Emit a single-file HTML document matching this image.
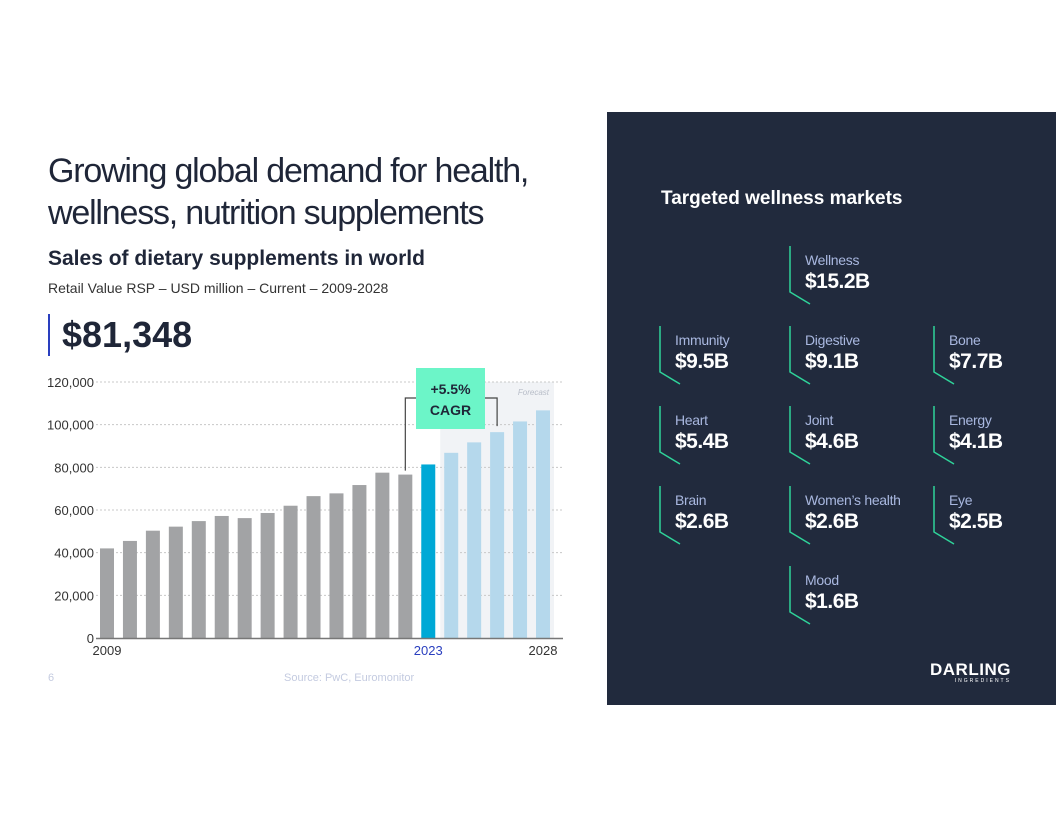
<!DOCTYPE html>
<html><head><meta charset="utf-8"><style>
body{margin:0;width:1056px;height:816px;background:#fff;position:relative;overflow:hidden;font-family:"Liberation Sans","DejaVu Sans",sans-serif}
.abs{position:absolute}
#title{left:48px;top:150px;font-size:34px;line-height:42px;color:#1f2638;letter-spacing:-1.2px;font-weight:400}
#sub{left:48px;top:247px;font-size:21px;font-weight:bold;color:#1f2638}
#sub2{left:48px;top:280px;font-size:14px;color:#333}
#big{left:48px;top:314px;border-left:2px solid #2a3fbf;padding-left:12px;font-size:36px;font-weight:bold;color:#1f2638;line-height:42px}
#panel{left:607px;top:112px;width:449px;height:593px;background:#212a3d}
#ptitle{left:661px;top:188px;font-size:19px;font-weight:bold;color:#fff}
.item{position:absolute}
.item .lab{position:absolute;left:15px;top:0;font-size:14px;color:#a9b8e0;white-space:nowrap;letter-spacing:-0.3px}
.item .val{position:absolute;left:15px;top:18px;font-size:21px;font-weight:bold;color:#fff;white-space:nowrap;letter-spacing:-0.5px}
.item svg{position:absolute;left:-2px;top:-6px}
</style></head><body>
<div class="abs" id="title">Growing global demand for health,<br>wellness, nutrition supplements</div>
<div class="abs" id="sub">Sales of dietary supplements in world</div>
<div class="abs" id="sub2">Retail Value RSP – USD million – Current – 2009-2028</div>
<div class="abs" id="big">$81,348</div>
<svg class="abs" style="left:0;top:0" width="600" height="700" id="chart"></svg>
<div class="abs" style="left:48px;top:672px;font-size:11px;color:#c4cbe0">6</div>
<div class="abs" style="left:284px;top:672px;font-size:11px;color:#c4cbe0">Source: PwC, Euromonitor</div>
<div class="abs" id="panel"></div>
<div class="abs" id="ptitle">Targeted wellness markets</div>
<div id="items"></div>
<div class="abs" style="left:930px;top:660px;color:#fff;font-weight:bold;font-size:17px;letter-spacing:0.5px">DARLING<div style="font-size:5px;letter-spacing:2px;text-align:right;font-weight:normal;margin-top:-2px">INGREDIENTS</div></div>
<script>
const years=[2009,2010,2011,2012,2013,2014,2015,2016,2017,2018,2019,2020,2021,2022,2023,2024,2025,2026,2027,2028];
const values=[42000,45500,50300,52200,54800,57200,56200,58600,62000,66500,67800,71700,77500,76600,81348,86800,91700,96500,101500,106700];
const ticks=[0,20000,40000,60000,80000,100000,120000];
const xLabels=[2009,2023,2028];
const ns="http://www.w3.org/2000/svg";
const svg=document.getElementById('chart');
const y=v=>638-v*256/120000;
const x=i=>107+i*(436/(years.length-1));
function mk(t,a){const e=document.createElementNS(ns,t);for(const k in a)e.setAttribute(k,a[k]);svg.appendChild(e);return e;}
const fi=years.indexOf(2024);
let sh=mk('rect',{x:x(fi)-11,y:y(120000),width:x(years.length-1)-x(fi)+22,height:y(0)-y(120000),fill:'#f1f3f6'});


let ft=mk('text',{x:x(years.length-1)+6,y:395,'font-size':8,'font-style':'italic',fill:'#b8bdc8','text-anchor':'end'});ft.textContent='Forecast';


ticks.forEach(t=>{
 if(t>0){let g=mk('line',{x1:96,x2:563,y1:y(t),y2:y(t),stroke:'#c8c8c8','stroke-dasharray':'2,2'});
 
 }
 let l=mk('text',{x:94,y:y(t)+5,'font-size':13,fill:'#333','text-anchor':'end'});l.textContent=t.toLocaleString('en-US');
 
 
});
values.forEach((v,i)=>{
 const c=years[i]<2023?'#a2a3a5':years[i]==2023?'#00a9d6':'#b5d8ec';
 let r=mk('rect',{x:x(i)-7,y:y(v),width:14,height:y(0)-y(v),fill:c});
 
 
});
let ax=mk('line',{x1:96,x2:563,y1:638.5,y2:638.5,stroke:'#777','stroke-width':1.5});


xLabels.forEach(yr=>{const i=years.indexOf(yr);
 let l=mk('text',{x:x(i),y:655,'font-size':13,fill:yr==2023?'#2a3fbf':'#333','text-anchor':'middle'});l.textContent=yr;
 
 });
const i22=years.indexOf(2022),i26=years.indexOf(2026);
let br=mk('path',{d:`M${x(i22)},${y(values[i22])-4}V398H416M485,398H${x(i26)}V${y(values[i26])-6}`,fill:'none',stroke:'#444','stroke-width':1.2});


let bx=mk('rect',{x:416,y:368,width:69,height:61,fill:'#6cf5c8'});


let t1=mk('text',{x:450.5,y:394,'font-size':14,'font-weight':'bold',fill:'#1f2638','text-anchor':'middle'});t1.textContent='+5.5%';


let t2=mk('text',{x:450.5,y:415,'font-size':14,'font-weight':'bold',fill:'#1f2638','text-anchor':'middle'});t2.textContent='CAGR';



const items=[["Wellness","$15.2B",1,0],["Immunity","$9.5B",0,1],["Digestive","$9.1B",1,1],["Bone","$7.7B",2,1],["Heart","$5.4B",0,2],["Joint","$4.6B",1,2],["Energy","$4.1B",2,2],["Brain","$2.6B",0,3],["Women’s health","$2.6B",1,3],["Eye","$2.5B",2,3],["Mood","$1.6B",1,4]];
const cols=[660,790,934];
const cont=document.getElementById('items');
items.forEach(it=>{
 const d=document.createElement('div');d.className='item';
 d.style.left=cols[it[2]]+'px';d.style.top=(252+it[3]*80)+'px';
 
 
 d.innerHTML='<svg width="30" height="66"><path d="M2,0V46L22,58" fill="none" stroke="#2fd39a" stroke-width="1.5"/></svg><div class="lab">'+it[0]+'</div><div class="val">'+it[1]+'</div>';
 cont.appendChild(d);
});
</script>
</body></html>
